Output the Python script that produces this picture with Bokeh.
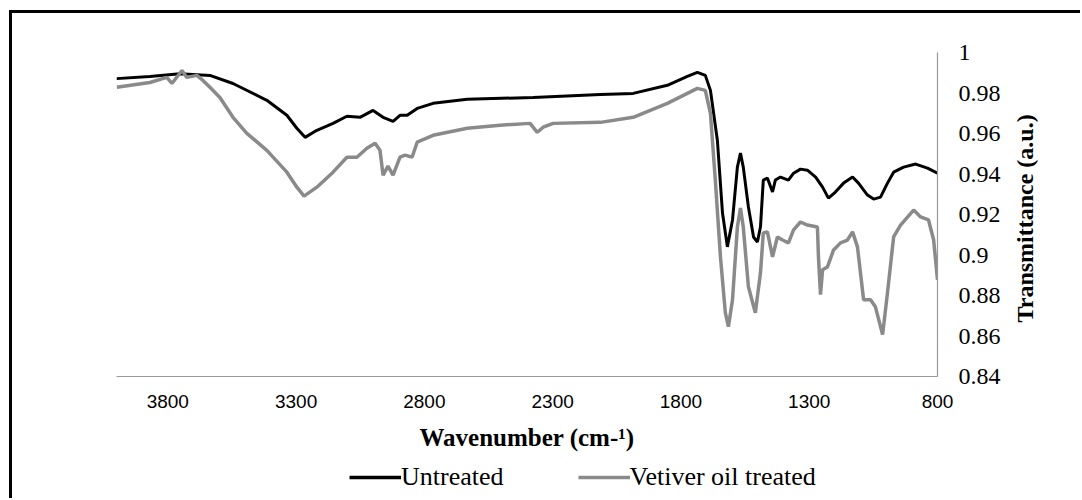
import math
from bokeh.plotting import figure
from bokeh.layouts import column
from bokeh.models import Range1d, FixedTicker, Legend, LegendItem
from bokeh.embed import file_html
from bokeh.resources import INLINE

# Untreated spectrum (wavenumber cm-1, transmittance a.u.)
untreated_wn = [4000, 3870, 3753, 3636, 3546, 3414, 3336, 3297, 3265, 3219, 3156, 3102, 3051,
                3000, 2961, 2922, 2895, 2867, 2828, 2766, 2633, 2376, 2114, 1986, 1853, 1775,
                1736, 1705, 1685, 1658, 1638, 1619, 1599, 1580, 1568, 1557, 1537, 1517, 1502,
                1490, 1479, 1463, 1443, 1432, 1412, 1381, 1361, 1334, 1307, 1275, 1248, 1225,
                1198, 1166, 1131, 1108, 1073, 1049, 1022, 995, 971, 932, 885, 839, 800]
untreated_t = [0.9871, 0.9882, 0.9895, 0.9887, 0.9847, 0.9764, 0.9690, 0.9626, 0.9581, 0.9616,
               0.9650, 0.9685, 0.9680, 0.9714, 0.9680, 0.9660, 0.9690, 0.9690, 0.9724, 0.9749,
               0.9769, 0.9778, 0.9793, 0.9798, 0.9838, 0.9882, 0.9902, 0.9887, 0.9813, 0.9567,
               0.9207, 0.9040, 0.9173, 0.9434, 0.9503, 0.9434, 0.9237, 0.9089, 0.9064, 0.9138,
               0.9370, 0.9380, 0.9311, 0.9370, 0.9385, 0.9370, 0.9404, 0.9424, 0.9419, 0.9385,
               0.9335, 0.9281, 0.9311, 0.9355, 0.9385, 0.9355, 0.9296, 0.9276, 0.9286, 0.9355,
               0.9409, 0.9434, 0.9449, 0.9429, 0.9404]

# Vetiver oil treated spectrum
treated_wn = [3999, 3870, 3804, 3784, 3745, 3726, 3687, 3663, 3636, 3597, 3546, 3492, 3414,
              3336, 3297, 3269, 3219, 3156, 3102, 3063, 3024, 2992, 2973, 2961, 2942, 2922,
              2895, 2875, 2848, 2828, 2766, 2633, 2505, 2388, 2360, 2337, 2298, 2114, 1986,
              1853, 1775, 1736, 1705, 1685, 1666, 1646, 1627, 1615, 1599, 1580, 1568, 1557,
              1537, 1510, 1490, 1479, 1463, 1443, 1424, 1404, 1381, 1361, 1334, 1307, 1268,
              1264, 1256, 1248, 1229, 1205, 1178, 1151, 1131, 1112, 1088, 1061, 1042, 1014,
              995, 971, 944, 893, 866, 835, 815, 800]
treated_t = [0.9828, 0.9852, 0.9877, 0.9847, 0.9911, 0.9877, 0.9887, 0.9862, 0.9828, 0.9778,
             0.9680, 0.9601, 0.9517, 0.9409, 0.9335, 0.9291, 0.9335, 0.9409, 0.9483, 0.9483,
             0.9527, 0.9552, 0.9517, 0.9394, 0.9439, 0.9394, 0.9483, 0.9493, 0.9483, 0.9557,
             0.9591, 0.9626, 0.9641, 0.9650, 0.9606, 0.9631, 0.9650, 0.9655, 0.9680, 0.9749,
             0.9798, 0.9823, 0.9813, 0.9700, 0.9370, 0.8991, 0.8715, 0.8646, 0.8779, 0.9138,
             0.9232, 0.9138, 0.8843, 0.8715, 0.8912, 0.9109, 0.9114, 0.8991, 0.9089, 0.9074,
             0.9060, 0.9124, 0.9163, 0.9148, 0.9138, 0.8991, 0.8804, 0.8927, 0.8941, 0.9025,
             0.9060, 0.9074, 0.9114, 0.9040, 0.8779, 0.8779, 0.8744, 0.8607, 0.8813, 0.9089,
             0.9148, 0.9222, 0.9188, 0.9173, 0.9074, 0.8877]

series_names = ["Untreated", "Vetiver oil treated"]
series_colors = ["black", "#8a8a8a"]
x_ticks = [3800, 3300, 2800, 2300, 1800, 1300, 800]
y_ticks = [0.84, 0.86, 0.88, 0.90, 0.92, 0.94, 0.96, 0.98, 1.0]
y_tick_labels = ["0.84", "0.86", "0.88", "0.9", "0.92", "0.94", "0.96", "0.98", "1"]

SERIF = "Liberation Serif"
SANS = "Liberation Sans"

p = figure(frame_width=821, frame_height=324, output_backend="svg", toolbar_location=None,
           x_range=Range1d(4000, 800), y_range=Range1d(0.84, 1.0),
           y_axis_location="right",
           min_border_left=104, min_border_right=143, min_border_top=39, min_border_bottom=87,
           background_fill_color="white", border_fill_color="white")
p.outline_line_color = None
p.grid.visible = False

p.line(untreated_wn, untreated_t, line_color=series_colors[0], line_width=3)
p.line(treated_wn, treated_t, line_color=series_colors[1], line_width=3.5)

for ax in (p.xaxis[0], p.yaxis[0]):
    ax.axis_line_color = "#999999"
    ax.axis_line_width = 1.2
    ax.major_tick_line_color = None
    ax.minor_tick_line_color = None
    ax.major_tick_out = 0
    ax.major_tick_in = 0
    ax.major_label_text_color = "black"

p.xaxis.ticker = FixedTicker(ticks=x_ticks)
p.xaxis.major_label_text_font = SANS
p.xaxis.major_label_text_font_size = "19px"
p.xaxis.major_label_standoff = 18
p.xaxis.axis_label = "Wavenumber (cm-\u00b9)"
p.xaxis.axis_label_text_font = SERIF
p.xaxis.axis_label_text_font_style = "bold"
p.xaxis.axis_label_text_font_size = "25px"
p.xaxis.axis_label_text_color = "black"
p.xaxis.axis_label_standoff = 13

p.yaxis.ticker = FixedTicker(ticks=y_ticks)
p.yaxis.major_label_overrides = {t: l for t, l in zip(y_ticks, y_tick_labels)}
p.yaxis.major_label_text_font = SERIF
p.yaxis.major_label_text_font_size = "24px"
p.yaxis.major_label_standoff = 21
ylabel = "Transmittance (a.u.)"
p.yaxis.axis_label_text_font = SERIF
p.yaxis.axis_label_text_font_style = "bold"
p.yaxis.axis_label_text_font_size = "24px"
p.yaxis.axis_label_text_color = "black"
p.yaxis.axis_label_standoff = 21
try:
    p.yaxis[0].axis_label_orientation = math.pi / 2
    try:
        p.yaxis[0].axis_label_align = "start"
        ylabel = "\u00a0" * 9 + ylabel
    except (AttributeError, ValueError):
        pass
except AttributeError:
    pass
p.yaxis.axis_label = ylabel

# legend strip underneath the chart (series drawn outside its view, only the legend shows)
leg = figure(width=1068, height=35, output_backend="svg", toolbar_location=None,
             x_axis_location=None, y_axis_location=None, min_border=0,
             x_range=Range1d(0, 1), y_range=Range1d(0, 1),
             background_fill_color="white", border_fill_color="white")
leg.outline_line_color = None
leg.grid.visible = False
lr1 = leg.line(untreated_wn, untreated_t, line_color=series_colors[0], line_width=3.5)
lr2 = leg.line(treated_wn, treated_t, line_color=series_colors[1], line_width=3.5)
legend = Legend(items=[LegendItem(label=series_names[0], renderers=[lr1]),
                       LegendItem(label=series_names[1], renderers=[lr2])],
                orientation="horizontal", location=(233, 6),
                border_line_color=None, background_fill_alpha=0,
                glyph_width=52, glyph_height=20, label_standoff=0, spacing=74,
                padding=0, margin=0,
                label_text_font=SERIF, label_text_font_size="26px",
                label_text_color="black")
leg.add_layout(legend)

layout = column(p, leg, spacing=0,
                styles={"margin-left": "9px", "margin-top": "10px",
                        "border-top": "3px solid black", "border-left": "3px solid black"})

open("out.html", "w").write(file_html(layout, INLINE))
